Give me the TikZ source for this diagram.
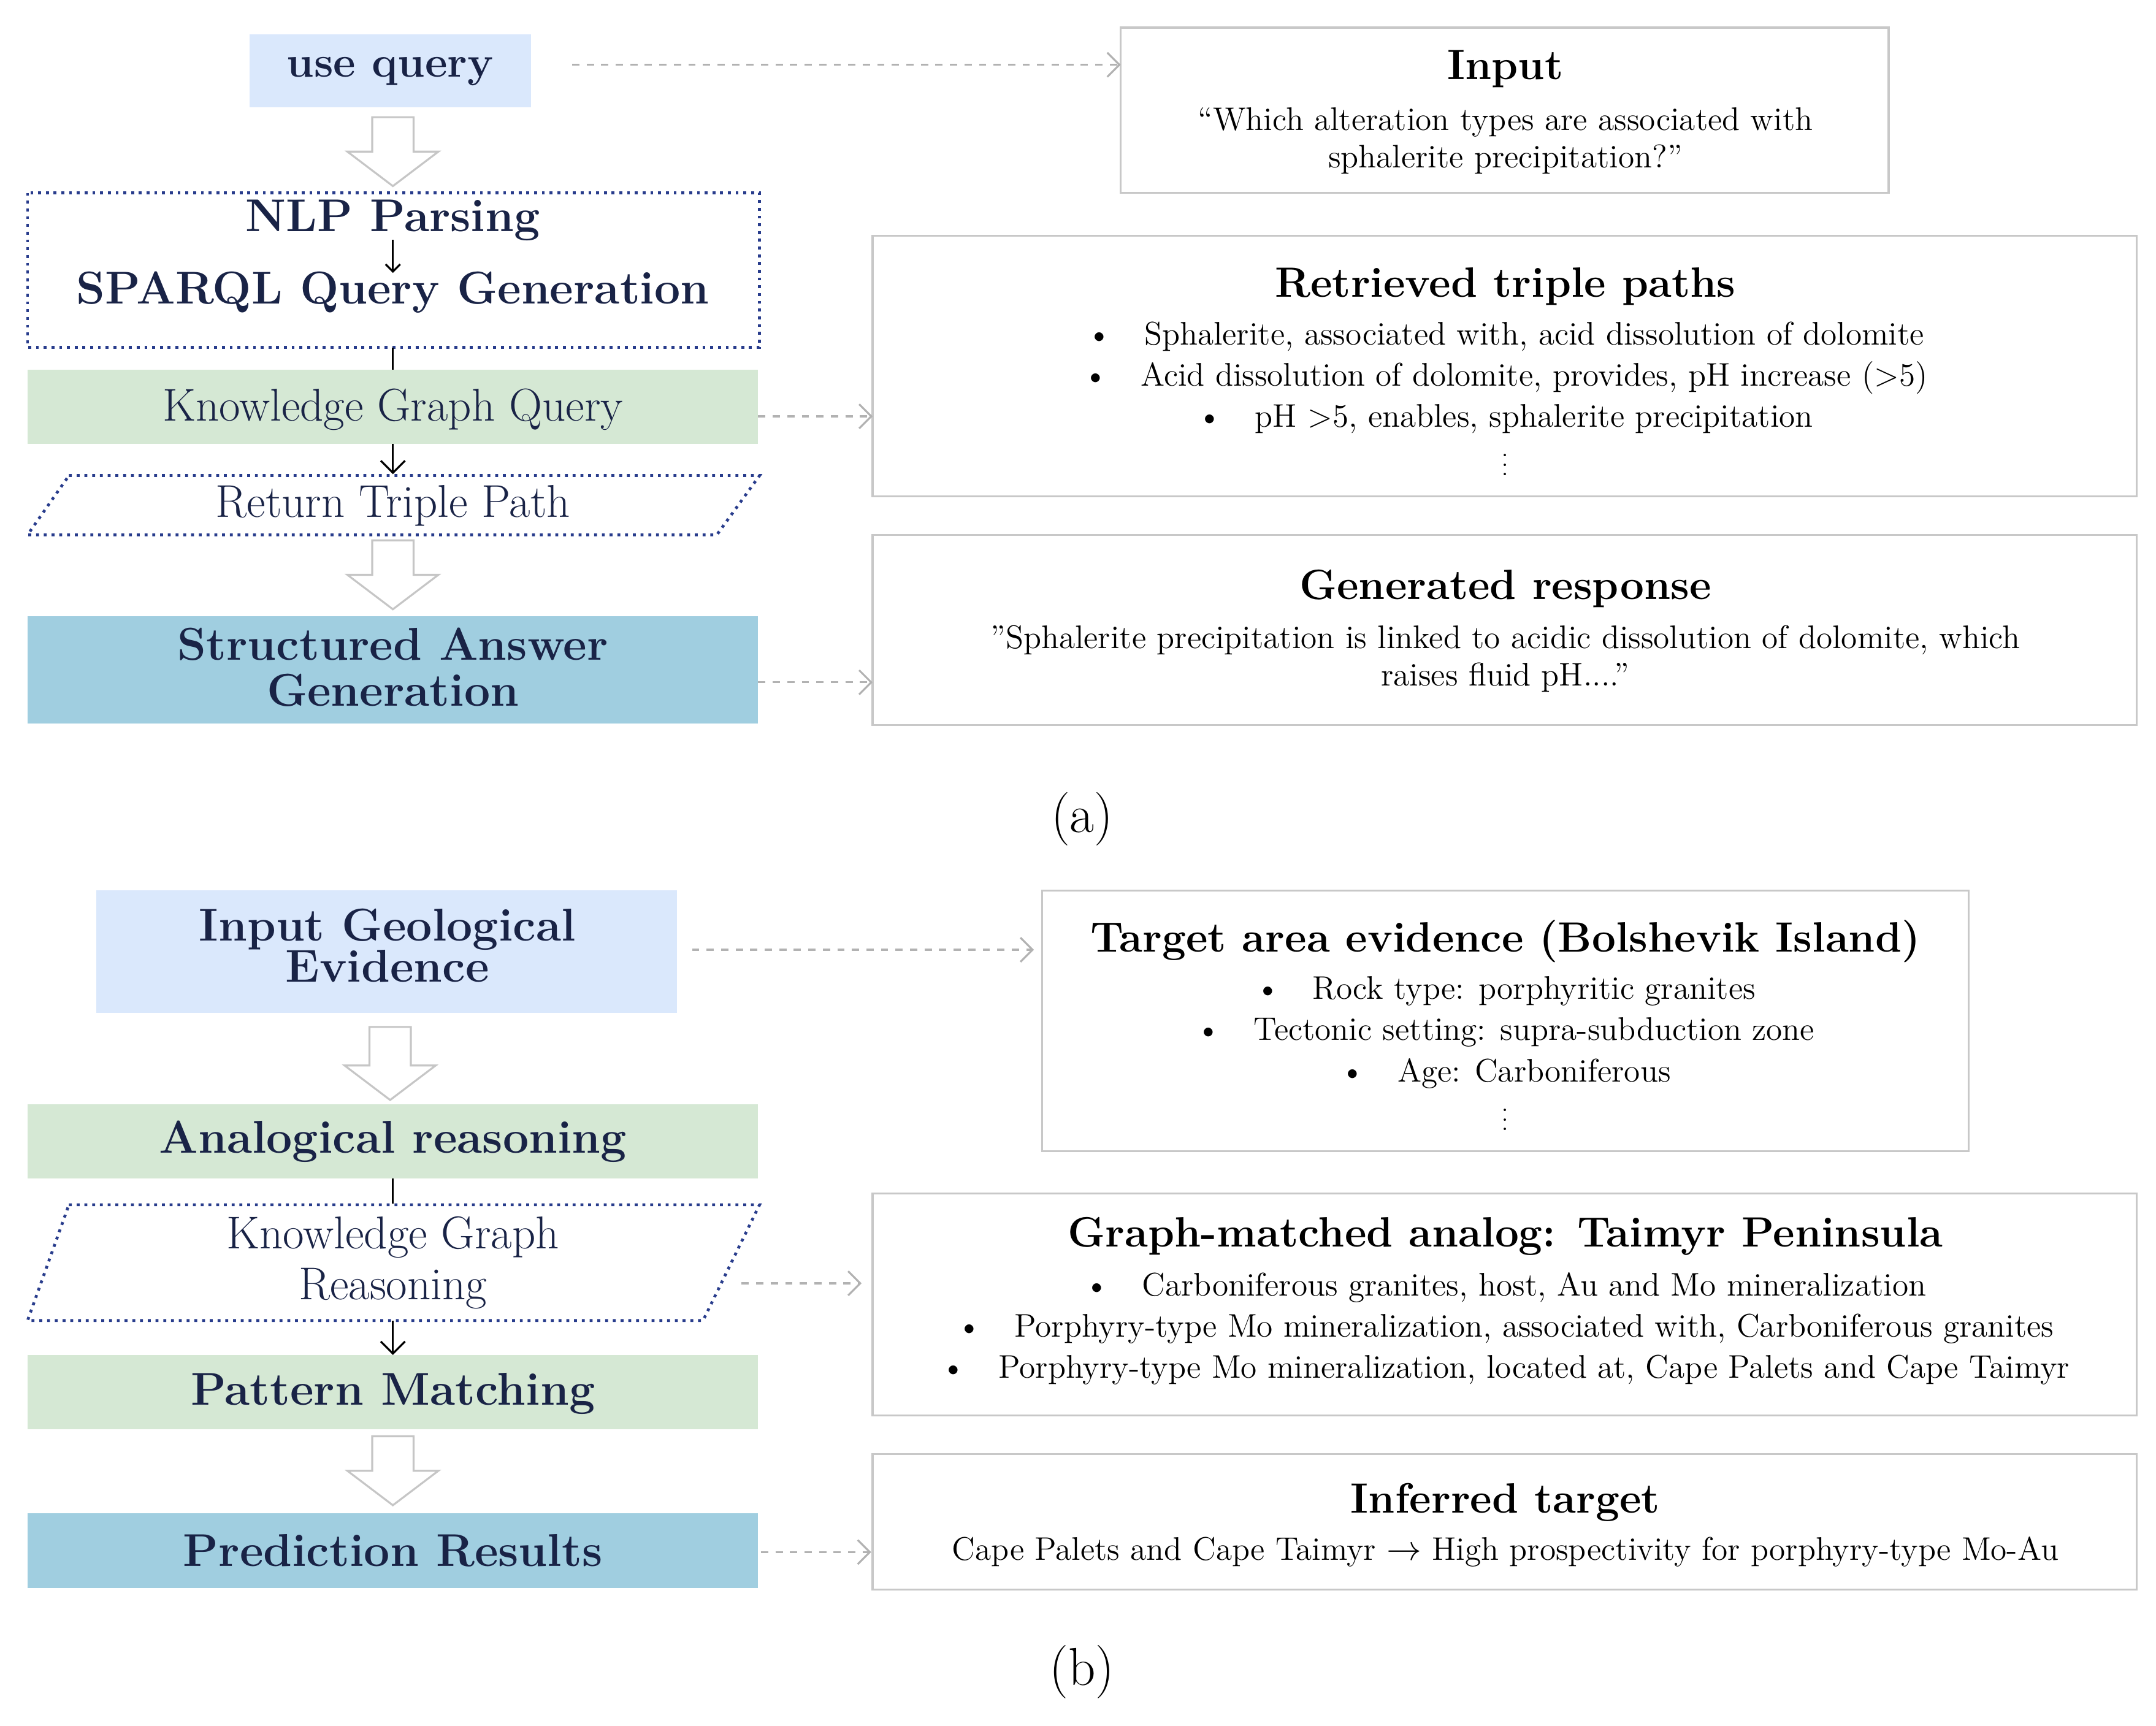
\documentclass[tikz,border=0pt]{standalone}
\usepackage{fontspec}
\usetikzlibrary{arrows.meta,calc}
\definecolor{navy}{RGB}{25,35,70}
\definecolor{qblue}{RGB}{218,232,252}
\definecolor{qgreen}{RGB}{213,232,212}
\definecolor{qteal}{RGB}{160,206,224}
\definecolor{bord}{RGB}{200,200,200}
\definecolor{dotb}{RGB}{40,60,140}
\newcommand{\fs}[1]{\fontsize{#1}{#1}\selectfont}
\begin{document}
\begin{tikzpicture}[x=0.02cm,y=-0.02cm,
  lbox/.style={inner sep=0pt,text=navy,align=center},
  rbox/.style={draw=bord,line width=0.8pt},
  dasharrow/.style={draw=gray!60,dashed,line width=0.8pt,-{Straight Barb[length=5pt]}},
  blk/.style={draw=black,line width=0.8pt,-{Straight Barb[length=5pt]}},
  hollow/.style={fill=white,draw=gray!45,line width=0.8pt},
  ttl/.style={font=\bfseries\fs{17.5}},
  bd/.style={font=\fs{13.5},inner sep=1pt},
  bod/.style={font=\fs{13.5},align=center},
  vd/.style={font=\fs{9},inner sep=0pt}]
\useasboundingbox (0,0) rectangle (1564,1252);
\def\harrow#1#2#3{\draw[hollow] (#1-15,#2)--(#1+15,#2)--(#1+15,#3-25)--(#1+33,#3-25)--(#1,#3)--(#1-33,#3-25)--(#1-15,#3-25)--cycle;}
% ---------- (a)
\fill[qblue] (181,25) rectangle (385,78);
\node[lbox,font=\bfseries\fs{18}] (uq) at (283,52) {use query};
\draw[rbox] (813,20) rectangle (1370,140);
\node[ttl] (inp) at (1092,50) {Input};
\node[bod] (inpt) at (1092,102) {``Which alteration types are associated with\\[2pt]sphalerite precipitation?''};
\coordinate (inpw) at (813,47);
\coordinate (uqe) at (415,47);
\draw[dasharrow] (uqe) -- (inpw);
\harrow{285}{85}{135}
\draw[dotb,dotted,line width=1.2pt] (20,140) rectangle (551,252);
\node[lbox,font=\bfseries\fs{19}] (nlp) at (285,160) {NLP Parsing};
\node[lbox,font=\bfseries\fs{19}] (sparql) at (285,212) {SPARQL Query Generation};
\draw[blk,-{Straight Barb[length=3pt]}] (285,174) -- (285,198);
\fill[qgreen] (20,268) rectangle (550,322);
\node[lbox,font=\fs{19}] (kgq) at (285,297) {Knowledge Graph Query};
\draw[line width=0.8pt] (285,252) -- (285,268);
\draw[rbox] (633,171) rectangle (1550,360);
\node[ttl] (ret) at (1092,208) {Retrieved triple paths};
\node[bd] (r1) at (1092,244) {\textbullet\quad Sphalerite, associated with, acid dissolution of dolomite};
\node[bd] (r2) at (1092,274) {\textbullet\quad Acid dissolution of dolomite, provides, pH increase (>5)};
\node[bd] (r3) at (1092,304) {\textbullet\quad pH >5, enables, sphalerite precipitation};
\node[vd] (r4) at (1092,332) {$\vdots$};
\coordinate (retw) at (633,302);
\draw[dasharrow] (550,302) -- (retw);
\draw[blk] (285,322) -- (285,344);
\draw[dotb,dotted,line width=1.2pt] (50,345) -- (551,345) -- (520,388) -- (20,388) -- cycle;
\node[lbox,font=\fs{19}] (rtp) at (285,367) {Return Triple Path};
\harrow{285}{392}{442}
\fill[qteal] (20,447) rectangle (550,525);
\node[lbox,font=\bfseries\fs{19}] (sag) at (285,484) {Structured Answer\\[0pt]Generation};
\draw[rbox] (633,388) rectangle (1550,526);
\node[ttl] (gen) at (1092,427) {Generated response};
\node[bod] (gent) at (1092,478) {"Sphalerite precipitation is linked to acidic dissolution of dolomite, which\\[2pt]raises fluid pH...."};
\coordinate (genw) at (633,495);
\draw[dasharrow] (550,495) -- (genw);
\node[font=\fs{22}] (la) at (785,594) {(a)};
% ---------- (b)
\fill[qblue] (70,646) rectangle (491,735);
\node[lbox,font=\bfseries\fs{19}] (ige) at (281,686) {Input Geological\\[-2pt]Evidence};
\draw[rbox] (756,646) rectangle (1428,835);
\node[ttl] (tae) at (1092,683) {Target area evidence (Bolshevik Island)};
\node[bd] (t1) at (1092,719) {\textbullet\quad Rock type: porphyritic granites};
\node[bd] (t2) at (1092,749) {\textbullet\quad Tectonic setting: supra-subduction zone};
\node[bd] (t3) at (1092,779) {\textbullet\quad Age: Carboniferous};
\node[vd] (t4) at (1092,807) {$\vdots$};
\coordinate (taew) at (750,689);
\draw[dasharrow] (502,689) -- (taew);
\harrow{283}{745}{798}
\fill[qgreen] (20,801) rectangle (550,855);
\node[lbox,font=\bfseries\fs{19}] (ana) at (285,828) {Analogical reasoning};
\draw[line width=0.8pt] (285,855) -- (285,873);
\draw[dotb,dotted,line width=1.2pt] (50,874) -- (551,874) -- (510,958) -- (20,958) -- cycle;
\node[lbox,font=\fs{19}] (kgr) at (285,916) {Knowledge Graph\\[2pt]Reasoning};
\draw[rbox] (633,866) rectangle (1550,1027);
\node[ttl] (gma) at (1092,897) {Graph-matched analog: Taimyr Peninsula};
\node[bd] (g1) at (1092,934) {\textbullet\quad Carboniferous granites, host, Au and Mo mineralization};
\node[bd] (g2) at (1092,964) {\textbullet\quad Porphyry-type Mo mineralization, associated with, Carboniferous granites};
\node[bd] (g3) at (1092,994) {\textbullet\quad Porphyry-type Mo mineralization, located at, Cape Palets and Cape Taimyr};
\coordinate (gmaw) at (625,931);
\draw[dasharrow] (538,931) -- (gmaw);
\draw[blk] (285,958) -- (285,983);
\fill[qgreen] (20,983) rectangle (550,1037);
\node[lbox,font=\bfseries\fs{19}] (pm) at (285,1011) {Pattern Matching};
\harrow{285}{1042}{1092}
\fill[qteal] (20,1098) rectangle (550,1152);
\node[lbox,font=\bfseries\fs{19}] (pr) at (285,1125) {Prediction Results};
\draw[rbox] (633,1055) rectangle (1550,1153);
\node[ttl] (inf) at (1092,1090) {Inferred target};
\node[bd] (inft) at (1092,1126) {Cape Palets and Cape Taimyr $\rightarrow$ High prospectivity for porphyry-type Mo-Au};
\coordinate (infw) at (632,1126);
\draw[dasharrow] (552,1126) -- (infw);
\node[font=\fs{22}] (lb) at (785,1213) {(b)};
\end{tikzpicture}
\end{document}
